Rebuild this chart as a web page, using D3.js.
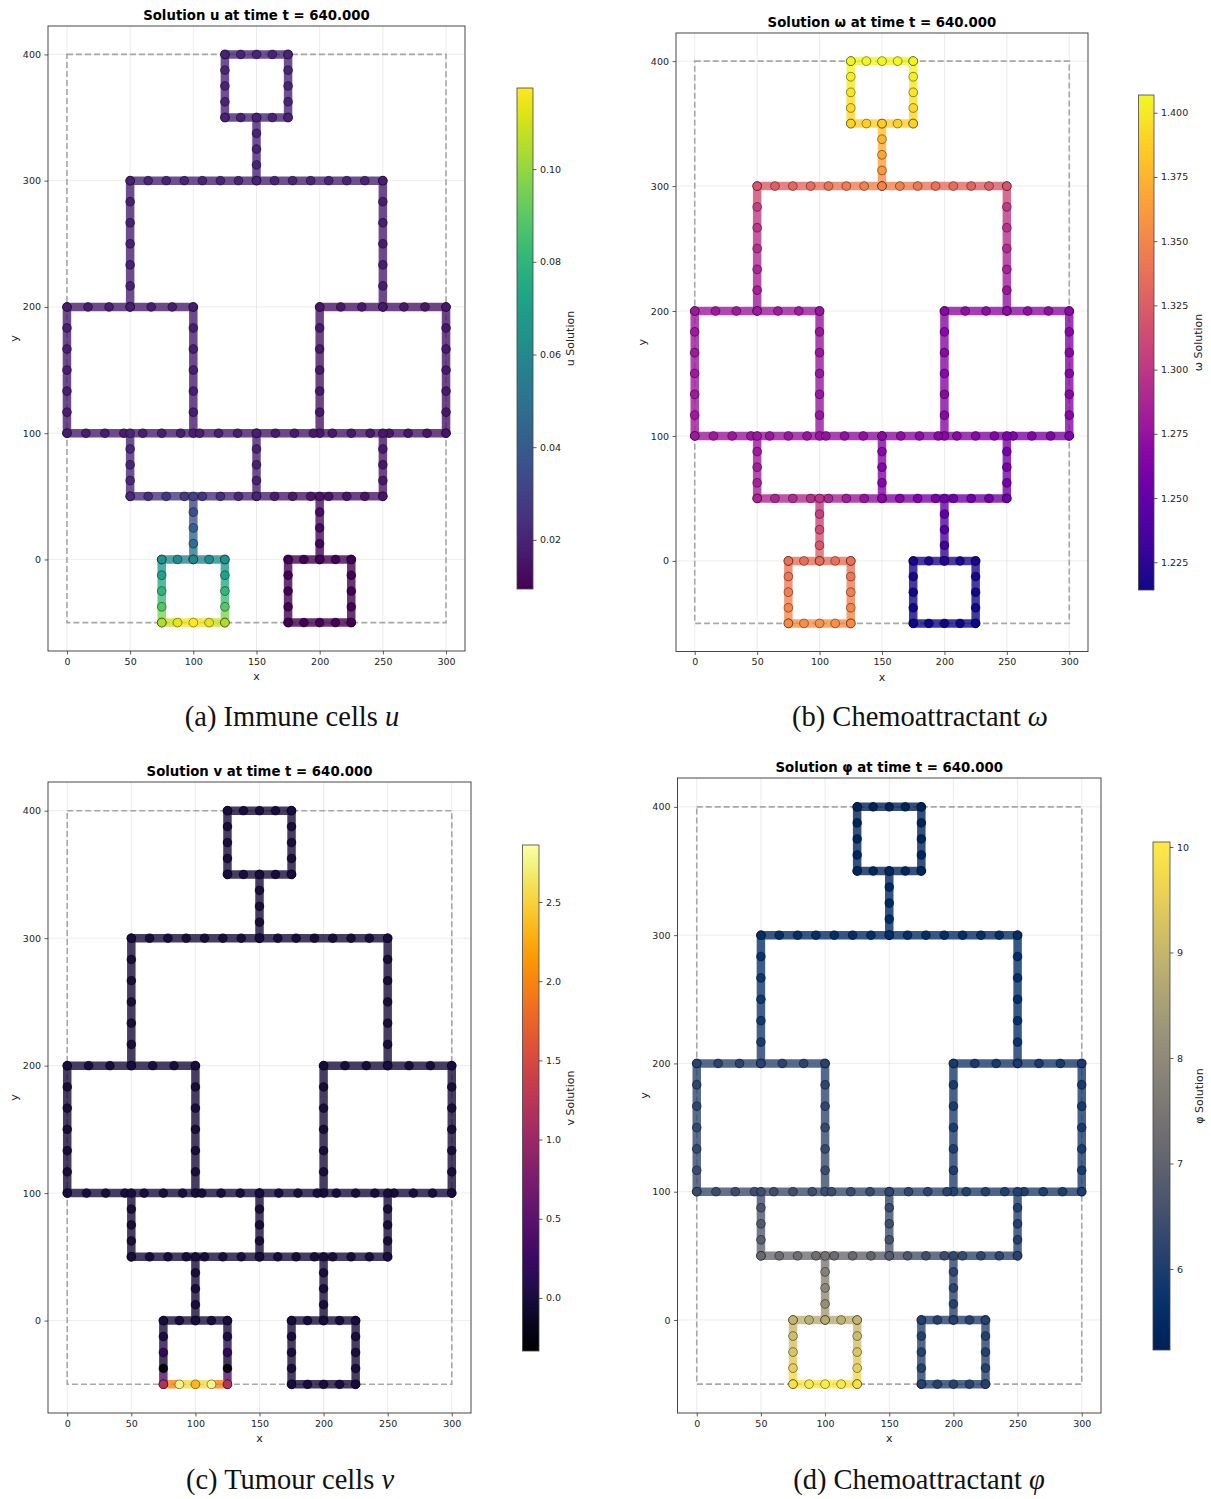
<!DOCTYPE html>
<html>
<head>
<meta charset="utf-8">
<script src="https://cdn.jsdelivr.net/npm/d3@7"></script>
<style>
    body { margin: 0; background: #fff; }
    svg { display: block; }
    text { font-family: "DejaVu Sans", sans-serif; fill: #222; }
</style>
</head>
<body>
<svg id="chart" width="1211" height="1499"></svg>
<script>
// network edges: x1, y1, x2, y2, mesh intervals
var edges = [
    [125, 400, 175, 400, 4], [175, 400, 175, 350, 4], [175, 350, 125, 350, 4], [125, 350, 125, 400, 4],
    [150, 350, 150, 300, 4],
    [50, 300, 250, 300, 14],
    [50, 300, 50, 200, 6], [250, 300, 250, 200, 6],
    [0, 200, 100, 200, 6], [200, 200, 300, 200, 6],
    [0, 200, 0, 100, 6], [100, 200, 100, 100, 6], [200, 200, 200, 100, 6], [300, 200, 300, 100, 6],
    [0, 100, 300, 100, 20],
    [50, 100, 50, 50, 4], [150, 100, 150, 50, 4], [250, 100, 250, 50, 4],
    [50, 50, 250, 50, 14],
    [100, 50, 100, 0, 4], [200, 50, 200, 0, 4],
    [75, 0, 125, 0, 4], [125, 0, 125, -50, 4], [125, -50, 75, -50, 4], [75, -50, 75, 0, 4],
    [175, 0, 225, 0, 4], [225, 0, 225, -50, 4], [225, -50, 175, -50, 4], [175, -50, 175, 0, 4]
];

var domainBox = [0, -50, 300, 400];
var xTicks = [0, 50, 100, 150, 200, 250, 300];
var yTicks = [0, 100, 200, 300, 400];

// immune cells u
var uValues = [
    0.020, 0.020, 0.020, 0.020,
    0.020,
    0.020,
    0.019, 0.018,
    0.018, 0.016,
    0.018, 0.018, 0.016, 0.016,
    [0.018, 0.018, 0.018, 0.018, 0.018, 0.018, 0.018, 0.018, 0.018, 0.018, 0.017,
     0.017, 0.017, 0.016, 0.016, 0.016, 0.016, 0.015, 0.015, 0.015, 0.015],
    0.021, 0.019, 0.016,
    [0.022, 0.024, 0.026, 0.028, 0.026, 0.023, 0.021, 0.020, 0.018, 0.017, 0.016, 0.015, 0.015, 0.015, 0.015],
    [0.030, 0.036, 0.042, 0.048, 0.058], [0.015, 0.013, 0.012, 0.011, 0.010],
    [0.064, 0.061, 0.058, 0.061, 0.064], [0.064, 0.071, 0.080, 0.088, 0.104],
    [0.104, 0.113, 0.1175, 0.113, 0.104], [0.104, 0.088, 0.080, 0.071, 0.064],
    0.0096, 0.0096, 0.0095, 0.0096
];
var uRange = [0.0094, 0.1175];
var uTicks = [0.02, 0.04, 0.06, 0.08, 0.10];

// chemoattractant omega
var omegaValues = [
    1.405, [1.405, 1.402, 1.398, 1.393, 1.389], [1.389, 1.388, 1.387, 1.388, 1.389], [1.389, 1.393, 1.398, 1.402, 1.405],
    [1.387, 1.376, 1.368, 1.360, 1.349],
    [1.322, 1.327, 1.331, 1.335, 1.339, 1.343, 1.346, 1.349, 1.346, 1.342, 1.338, 1.334, 1.330, 1.326, 1.320],
    [1.322, 1.305, 1.299, 1.294, 1.289, 1.284, 1.280], [1.320, 1.303, 1.297, 1.291, 1.285, 1.278, 1.272],
    1.280, 1.271,
    1.279, 1.277, 1.268, 1.267,
    [1.279, 1.279, 1.278, 1.278, 1.277, 1.277, 1.276, 1.275, 1.274, 1.273, 1.272,
     1.271, 1.270, 1.269, 1.268, 1.267, 1.266, 1.265, 1.264, 1.263, 1.262],
    [1.278, 1.280, 1.282, 1.284, 1.287], [1.268, 1.267, 1.266, 1.265, 1.264], [1.262, 1.260, 1.258, 1.257, 1.255],
    [1.287, 1.289, 1.291, 1.294, 1.290, 1.283, 1.276, 1.268, 1.265, 1.262, 1.259, 1.256, 1.255, 1.255, 1.255],
    [1.298, 1.306, 1.313, 1.321, 1.336], [1.254, 1.247, 1.240, 1.233, 1.222],
    [1.338, 1.337, 1.336, 1.337, 1.338], [1.338, 1.342, 1.346, 1.350, 1.354],
    [1.354, 1.356, 1.357, 1.356, 1.354], [1.354, 1.350, 1.346, 1.342, 1.338],
    [1.218, 1.219, 1.222, 1.219, 1.218], [1.218, 1.217, 1.216, 1.215, 1.2145],
    1.2143, [1.2145, 1.215, 1.216, 1.217, 1.218]
];
var omegaRange = [1.2142, 1.4069];
var omegaTicks = [1.225, 1.250, 1.275, 1.300, 1.325, 1.350, 1.375, 1.400];

// tumour cells v
var vValues = [
    0.0, 0.0, 0.0, 0.0,
    0.0,
    0.0,
    0.0, 0.0,
    0.0, 0.0,
    0.0, 0.0, 0.0, 0.0,
    0.0,
    0.0, 0.0, 0.0,
    0.0,
    0.0, 0.0,
    0.0, [0.0, 0.02, 0.18, -0.33, 1.2],
    [1.2, 2.8, 2.3, 2.8, 1.2], [1.2, -0.33, 0.18, 0.02, 0.0],
    0.0, 0.0, 0.0, 0.0
];
var vRange = [-0.335, 2.86];
var vTicks = [0.0, 0.5, 1.0, 1.5, 2.0, 2.5];

// chemoattractant phi
var phiValues = [
    5.30, [5.30, 5.33, 5.36, 5.38, 5.40], 5.40, [5.40, 5.38, 5.36, 5.33, 5.30],
    [5.40, 5.44, 5.48, 5.52, 5.58],
    [5.62, 5.60, 5.58, 5.58, 5.58, 5.58, 5.58, 5.58, 5.58, 5.57, 5.57, 5.57, 5.58, 5.60, 5.62],
    [5.62, 5.72, 5.76, 5.80, 5.86, 5.95, 6.18], [5.62, 5.62, 5.62, 5.63, 5.65, 5.72, 5.90],
    6.18, 5.92,
    [6.18, 6.22, 6.26, 6.30, 6.33, 6.37, 6.40], [6.18, 6.22, 6.26, 6.30, 6.33, 6.37, 6.44],
    [5.92, 5.94, 5.96, 5.98, 6.00, 6.02, 6.09], [5.92, 5.92, 5.93, 5.94, 5.95, 5.96, 5.98],
    [6.40, 6.42, 6.44, 6.46, 6.47, 6.46, 6.44, 6.40, 6.36, 6.32, 6.28,
     6.24, 6.20, 6.16, 6.12, 6.09, 6.06, 6.04, 6.02, 6.00, 5.98],
    [6.46, 6.60, 6.72, 6.85, 7.15], [6.25, 6.35, 6.45, 6.55, 6.82], [6.05, 6.05, 6.07, 6.10, 6.15],
    [7.15, 7.22, 7.27, 7.30, 7.22, 7.12, 6.98, 6.82, 6.65, 6.50, 6.39, 6.32, 6.25, 6.20, 6.15],
    [7.35, 7.74, 7.93, 8.07, 8.75], [6.30, 6.20, 6.15, 6.12, 6.10],
    [8.95, 8.85, 8.75, 8.85, 8.95], [8.95, 9.10, 9.30, 9.50, 9.85],
    [9.85, 10.00, 10.047, 10.00, 9.85], [9.85, 9.50, 9.30, 9.10, 8.95],
    6.10, 6.10, 6.12, 6.10
];
var phiRange = [5.232, 10.047];
var phiTicks = [6, 7, 8, 9, 10];

var panels = [
    {sym: "u", values: uValues, range: uRange, ticks: uTicks, fmt: ".2f", cmap: d3.interpolateViridis,
     box: [48, 26, 465, 651], bar: [517, 88, 533, 589], labelX: 570,
     caption: ["(a) Immune cells ", "u"], capX: 292, capY: 726},
    {sym: "\u03c9", values: omegaValues, range: omegaRange, ticks: omegaTicks, fmt: ".3f", cmap: d3.interpolatePlasma,
     box: [676, 33, 1088, 651.5], bar: [1138.5, 95, 1154, 590], labelX: 1198,
     caption: ["(b) Chemoattractant ", "\u03c9"], capX: 920, capY: 726},
    {sym: "v", values: vValues, range: vRange, ticks: vTicks, fmt: ".1f", cmap: d3.interpolateInferno,
     box: [48, 782, 471, 1413], bar: [522.5, 845, 539, 1351], labelX: 570,
     caption: ["(c) Tumour cells ", "v"], capX: 290, capY: 1489},
    {sym: "\u03c6", values: phiValues, range: phiRange, ticks: phiTicks, fmt: "d", cmap: d3.interpolateCividis,
     box: [677.5, 778, 1101, 1413], bar: [1153, 842, 1170, 1350], labelX: 1199,
     caption: ["(d) Chemoattractant ", "\u03c6"], capX: 919, capY: 1489}
];

var svg = d3.select("#chart");

function buildMesh(values) {
    var nodes = [], segs = [];
    edges.forEach(function(e, k) {
        var n = e[4], vals = values[k];
        var pts = d3.range(n + 1).map(function(i) {
            return {
                x: e[0] + (e[2] - e[0]) * i / n,
                y: e[1] + (e[3] - e[1]) * i / n,
                v: Array.isArray(vals) ? vals[i] : vals
            };
        });
        for (var i = 0; i < n; i++) {
            segs.push({a: pts[i], b: pts[i + 1], v: (pts[i].v + pts[i + 1].v) / 2});
        }
        nodes = nodes.concat(pts);
    });
    return {nodes: nodes, segs: segs};
}

function drawPanel(p, idx) {
    var b = p.box;
    var padX = (domainBox[2] - domainBox[0]) * 0.05,
        padY = (domainBox[3] - domainBox[1]) * 0.05;

    var x = d3.scaleLinear().domain([domainBox[0] - padX, domainBox[2] + padX]).range([b[0], b[2]]);
    var y = d3.scaleLinear().domain([domainBox[1] - padY, domainBox[3] + padY]).range([b[3], b[1]]);
    var color = d3.scaleSequential(p.cmap).domain(p.range);

    var g = svg.append("g");

    // grid
    g.append("g").selectAll("line")
        .data(xTicks)
        .enter().append("line")
        .attr("x1", function(d) { return x(d); }).attr("x2", function(d) { return x(d); })
        .attr("y1", b[1]).attr("y2", b[3])
        .style("stroke", "#b0b0b0").style("stroke-opacity", 0.3).style("stroke-width", 0.8);
    g.append("g").selectAll("line")
        .data(yTicks)
        .enter().append("line")
        .attr("y1", function(d) { return y(d); }).attr("y2", function(d) { return y(d); })
        .attr("x1", b[0]).attr("x2", b[2])
        .style("stroke", "#b0b0b0").style("stroke-opacity", 0.3).style("stroke-width", 0.8);

    // domain outline
    g.append("rect")
        .attr("x", x(domainBox[0]))
        .attr("y", y(domainBox[3]))
        .attr("width", x(domainBox[2]) - x(domainBox[0]))
        .attr("height", y(domainBox[1]) - y(domainBox[3]))
        .style("fill", "none")
        .style("stroke", "#999")
        .style("stroke-opacity", 0.85)
        .style("stroke-width", 1.6)
        .style("stroke-dasharray", "6,3");

    var mesh = buildMesh(p.values);

    g.append("g").selectAll("line")
        .data(mesh.segs)
        .enter().append("line")
        .attr("x1", function(d) { return x(d.a.x); })
        .attr("y1", function(d) { return y(d.a.y); })
        .attr("x2", function(d) { return x(d.b.x); })
        .attr("y2", function(d) { return y(d.b.y); })
        .style("stroke", function(d) { return color(d.v); })
        .style("stroke-opacity", 0.8)
        .style("stroke-width", 8.5)
        .style("stroke-linecap", "round");

    g.append("g").selectAll("circle")
        .data(mesh.nodes)
        .enter().append("circle")
        .attr("cx", function(d) { return x(d.x); })
        .attr("cy", function(d) { return y(d.y); })
        .attr("r", 4.4)
        .style("fill", function(d) { return color(d.v); })
        .style("fill-opacity", 0.9)
        .style("stroke", "#000")
        .style("stroke-opacity", 0.7)
        .style("stroke-width", 0.6);

    // axes
    var xAxis = g.append("g")
        .attr("transform", "translate(0," + b[3] + ")")
        .call(d3.axisBottom(x).tickValues(xTicks).tickSize(3.5).tickPadding(3.5));
    var yAxis = g.append("g")
        .attr("transform", "translate(" + b[0] + ",0)")
        .call(d3.axisLeft(y).tickValues(yTicks).tickSize(3.5).tickPadding(3.5));
    [xAxis, yAxis].forEach(function(a) {
        a.select(".domain").remove();
        a.selectAll("line").style("stroke", "#333").style("stroke-width", 0.8);
        a.selectAll("text").style("font-size", "9.5px").style("font-family", "DejaVu Sans").style("fill", "#222");
    });

    g.append("rect")
        .attr("x", b[0]).attr("y", b[1])
        .attr("width", b[2] - b[0]).attr("height", b[3] - b[1])
        .style("fill", "none")
        .style("stroke", "#333")
        .style("stroke-width", 0.9);

    g.append("text")
        .attr("x", (b[0] + b[2]) / 2)
        .attr("y", b[3] + 29)
        .attr("text-anchor", "middle")
        .style("font-size", "11px")
        .text("x");
    g.append("text")
        .attr("transform", "translate(" + (b[0] - 30) + "," + ((b[1] + b[3]) / 2) + ") rotate(-90)")
        .attr("text-anchor", "middle")
        .style("font-size", "11px")
        .text("y");

    g.append("text")
        .attr("x", (b[0] + b[2]) / 2)
        .attr("y", b[1] - 6)
        .attr("text-anchor", "middle")
        .style("font-size", "13.3px")
        .style("font-weight", "bold")
        .style("fill", "#000")
        .text("Solution " + p.sym + " at time t = 640.000");

    // colorbar
    var cb = p.bar;
    var gradId = "cbar" + idx;
    var grad = svg.append("defs").append("linearGradient")
        .attr("id", gradId)
        .attr("x1", "0%").attr("y1", "100%")
        .attr("x2", "0%").attr("y2", "0%");
    grad.selectAll("stop")
        .data(d3.range(0, 1.0001, 0.025))
        .enter().append("stop")
        .attr("offset", function(d) { return (d * 100) + "%"; })
        .attr("stop-color", function(d) { return p.cmap(d); });

    g.append("rect")
        .attr("x", cb[0]).attr("y", cb[1])
        .attr("width", cb[2] - cb[0]).attr("height", cb[3] - cb[1])
        .style("fill", "url(#" + gradId + ")")
        .style("stroke", "#444")
        .style("stroke-width", 0.8);

    var cScale = d3.scaleLinear().domain(p.range).range([cb[3], cb[1]]);
    var cAxis = g.append("g")
        .attr("transform", "translate(" + cb[2] + ",0)")
        .call(d3.axisRight(cScale).tickValues(p.ticks).tickFormat(d3.format(p.fmt)).tickSize(3.5).tickPadding(3.5));
    cAxis.select(".domain").remove();
    cAxis.selectAll("line").style("stroke", "#333").style("stroke-width", 0.8);
    cAxis.selectAll("text").style("font-size", "9.5px").style("font-family", "DejaVu Sans").style("fill", "#222");

    g.append("text")
        .attr("transform", "translate(" + p.labelX + "," + ((cb[1] + cb[3]) / 2) + ") rotate(-90)")
        .attr("text-anchor", "middle")
        .attr("dy", "0.35em")
        .style("font-size", "11px")
        .text(p.sym + " Solution");

    // caption
    var cap = svg.append("text")
        .attr("x", p.capX)
        .attr("y", p.capY)
        .attr("text-anchor", "middle")
        .style("font-family", "Liberation Serif, serif")
        .style("font-size", "28.5px")
        .style("fill", "#111");
    cap.append("tspan").text(p.caption[0]);
    cap.append("tspan").style("font-style", "italic").text(p.caption[1]);
}

panels.forEach(drawPanel);
</script>
</body>
</html>
